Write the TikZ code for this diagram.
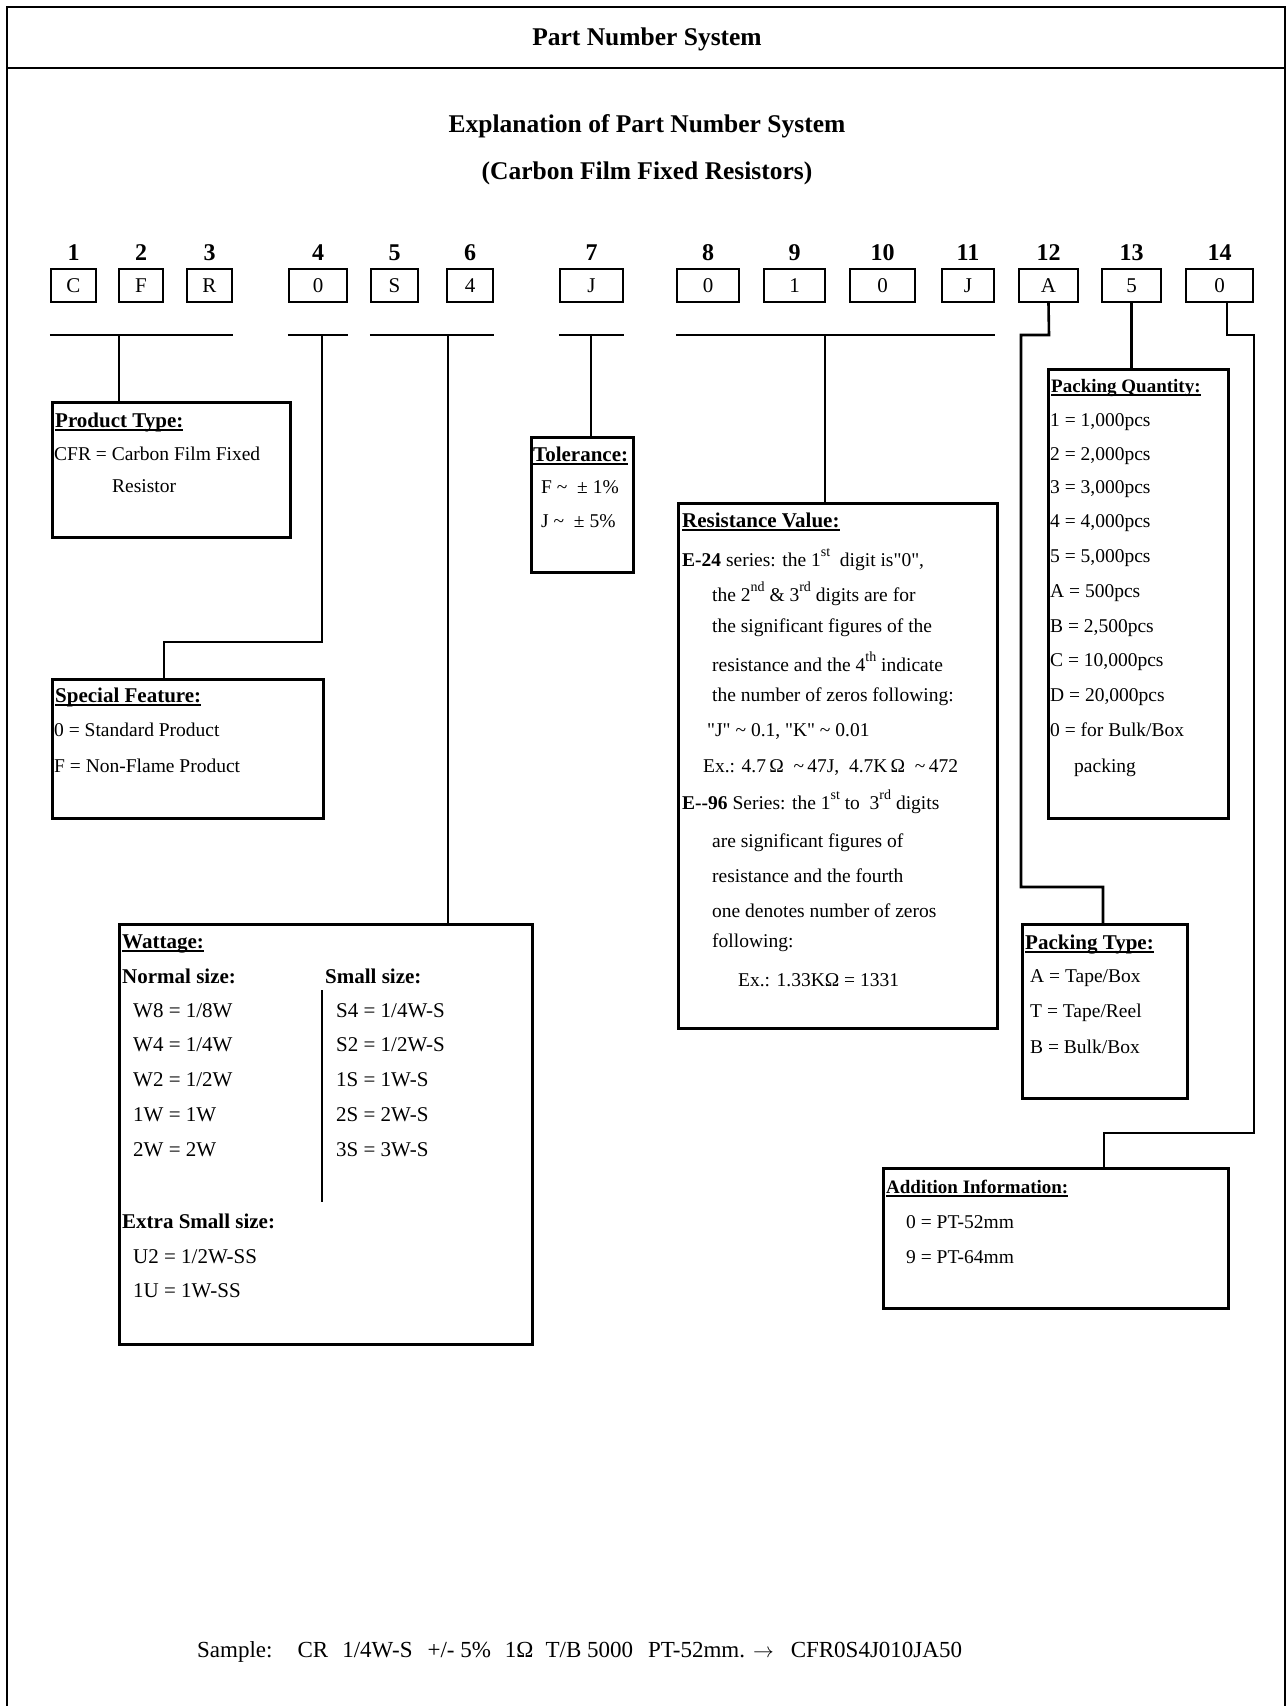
\documentclass[tikz,border=0pt]{standalone}
\usepackage{fontspec}
\setmainfont{Liberation Serif}[Ligatures=TeXOff]
\newcommand\bodyf{\fontsize{19.5}{23}\selectfont}
\newcommand\wattf{\fontsize{21}{25}\selectfont}
\newcommand\headf{\fontsize{21}{25}\selectfont\bfseries}
\newcommand\boxf{\fontsize{21}{25}\selectfont}
\newcommand\sups[1]{\raisebox{9.5pt}{\fontsize{14}{14}\selectfont #1}}
\newcommand\ulbf[1]{\setbox0\hbox{\bfseries #1}\rlap{\rule[-4pt]{\wd0}{2pt}}\box0}
\tikzset{
  frame/.style={line width=2.6pt},
  conn/.style={line width=2.6pt},
  digitbox/.style={draw, line width=2.4pt, minimum height=33pt, inner sep=0pt, font=\boxf},
  digitnum/.style={anchor=base, inner sep=0pt, font=\fontsize{24}{28}\selectfont\bfseries},
  infobox/.style={draw, line width=2.6pt, inner sep=0pt, anchor=north west},
  lbl/.style={anchor=base west, inner sep=0pt, font=\bodyf},
  wlbl/.style={anchor=base west, inner sep=0pt, font=\wattf},
  ttl/.style={anchor=base west, inner sep=0pt, font=\fontsize{21}{25}\selectfont},
  title/.style={anchor=base, inner sep=0pt, font=\fontsize{25.5}{30}\selectfont\bfseries},
}
\begin{document}
\begin{tikzpicture}[x=1pt,y=-1pt]
\useasboundingbox (0,0) rectangle (1286,1706);
% outer frame
\coordinate (fbl) at (7,1715);
\coordinate (ftl) at (7,7);
\coordinate (ftr) at (1285,7);
\coordinate (fbr) at (1285,1715);
\coordinate (hl) at (7,68);
\coordinate (hr) at (1285,68);
\draw[frame] (fbl) -- (ftl) -- (ftr) -- (fbr);
\draw[frame] (hl) -- (hr);
\node[title] (hdr) at (647,45) {Part Number System};
\node[title] (expl) at (647,132) {Explanation of Part Number System};
\node[title] (cfr) at (647,179) {(Carbon Film Fixed Resistors)};

% digit boxes
\foreach \n/\cx/\w/\ch in {1/73.5/45/C, 2/141/44/F, 3/209.5/45/R, 4/318/58/0, 5/394.5/47/S, 6/470/46/4, 7/591.5/63/J, 8/708/62/0, 9/794.5/61/1, 10/882.5/65/0, 11/968/52/J, 12/1048.5/59/A, 13/1131.5/59/5, 14/1219.5/67/0}{
  \node[digitbox, minimum width=\w pt] (d\n) at (\cx,285.5) {\ch};
  \node[digitnum] (n\n) at (\cx,260) {\n};
}

% info boxes
\node[infobox, minimum width=238pt, minimum height=135pt] (ptype) at (51,401) {};
\node[infobox, minimum width=271pt, minimum height=139pt] (spec) at (51,678) {};
\node[infobox, minimum width=413pt, minimum height=420pt] (watt) at (118,923) {};
\node[infobox, minimum width=102pt, minimum height=135pt] (tol) at (530,436) {};
\node[infobox, minimum width=319pt, minimum height=525pt] (res) at (677,502) {};
\node[infobox, minimum width=180pt, minimum height=449pt] (pq) at (1047,368) {};
\node[infobox, minimum width=165pt, minimum height=174pt] (pt) at (1021,923) {};
\node[infobox, minimum width=345pt, minimum height=140pt] (add) at (882,1167) {};

% bars and connectors
\coordinate (bar) at (0,335);
\draw[conn] (d1.west |- bar) -- (d3.east |- bar);
\draw[conn] (d4.west |- bar) -- (d4.east |- bar);
\draw[conn] (d5.west |- bar) -- (d6.east |- bar);
\draw[conn] (d7.west |- bar) -- (d7.east |- bar);
\draw[conn] (d8.west |- bar) -- (d11.east |- bar);
\coordinate (s1) at (119,335);
\coordinate (s2) at (322,335);
\coordinate (s2b) at (322,642);
\coordinate (s2c) at (164,642);
\coordinate (s3) at (448,335);
\coordinate (s4) at (591,335);
\coordinate (s5) at (825,335);
\draw[conn] (s1) -- (s1 |- ptype.north);
\draw[conn] (s2) -- (s2b) -- (s2c) -- (s2c |- spec.north);
\draw[conn] (s3) -- (s3 |- watt.north);
\draw[conn] (s4) -- (s4 |- tol.north);
\draw[conn] (s5) -- (s5 |- res.north);
\coordinate (a1) at (1049,335);
\coordinate (a2) at (1021,335);
\coordinate (a3) at (1021,887);
\coordinate (a4) at (1103,887);
\draw[conn] (d12.south) -- (a1) -- (a2) -- (a3) -- (a4) -- (a4 |- pt.north);
\draw[conn] (d13.south) -- (d13.south |- pq.north);
\coordinate (z0) at (1227,302);
\coordinate (z1) at (1227,335);
\coordinate (z2) at (1254,335);
\coordinate (z3) at (1254,1133);
\coordinate (z4) at (1104,1133);
\draw[conn] (z0) -- (z1) -- (z2) -- (z3) -- (z4) -- (z4 |- add.north);

% Product Type
\node[ttl] (pt1) at (55,427) {\ulbf{Product Type:}};
\node[lbl] (pt2) at (54,460) {CFR = Carbon Film Fixed};
\node[lbl] (pt3) at (112,492) {Resistor};

% Tolerance
\node[ttl] (to1) at (533,461) {\ulbf{Tolerance:}};
\node[lbl] (to2) at (541,493) {F \textasciitilde\ \ ± 1\%};
\node[lbl] (to3) at (541,527) {J \textasciitilde\ \ ± 5\%};

% Resistance Value
\node[ttl] (rv0) at (682,527) {\ulbf{Resistance Value:}};
\node[lbl] (rv1) at (682,566) {\textbf{E-24} series: the 1\sups{st}\ \ digit is"0",};
\node[lbl] (rv2) at (712,601) {the 2\sups{nd}\ \& 3\sups{rd}\ digits are for};
\node[lbl] (rv3) at (712,632) {the significant figures of the};
\node[lbl] (rv4) at (712,671) {resistance and the 4\sups{th}\ indicate};
\node[lbl] (rv5) at (712,701) {the number of zeros following:};
\node[lbl] (rv6) at (707,736) {"J" \textasciitilde{} 0.1, "K" \textasciitilde{} 0.01};
\node[lbl] (rv7) at (703,772) {Ex.: 4.7\,Ω\ \ \textasciitilde\,47J,\ \ 4.7K\,Ω\ \ \textasciitilde\,472};
\node[lbl] (rv8) at (682,809) {\textbf{E--96} Series: the 1\sups{st}\ to\ \ 3\sups{rd}\ digits};
\node[lbl] (rv9) at (712,847) {are significant figures of};
\node[lbl] (rv10) at (712,882) {resistance and the fourth};
\node[lbl] (rv11) at (712,917) {one denotes number of zeros};
\node[lbl] (rv12) at (712,947) {following:};
\node[lbl] (rv13) at (738,986) {Ex.: 1.33KΩ = 1331};

% Special Feature
\node[ttl] (sf1) at (55,702) {\ulbf{Special Feature:}};
\node[lbl] (sf2) at (54,736) {0 = Standard Product};
\node[lbl] (sf3) at (54,772) {F = Non-Flame Product};

% Packing Quantity
\node[ttl, font=\fontsize{19}{23}\selectfont] (pq0) at (1051,392) {\ulbf{Packing Quantity:}};
\node[lbl] (pq1) at (1050,426) {1 = 1,000pcs};
\node[lbl] (pq2) at (1050,460) {2 = 2,000pcs};
\node[lbl] (pq3) at (1050,493) {3 = 3,000pcs};
\node[lbl] (pq4) at (1050,527) {4 = 4,000pcs};
\node[lbl] (pq5) at (1050,562) {5 = 5,000pcs};
\node[lbl] (pq6) at (1050,597) {A = 500pcs};
\node[lbl] (pq7) at (1050,632) {B = 2,500pcs};
\node[lbl] (pq8) at (1050,666) {C = 10,000pcs};
\node[lbl] (pq9) at (1050,701) {D = 20,000pcs};
\node[lbl] (pq10) at (1050,736) {0 = for Bulk/Box};
\node[lbl] (pq11) at (1074,772) {packing};

% Wattage
\node[ttl] (w0) at (122,948) {\ulbf{Wattage:}};
\node[ttl, font=\headf] (w1) at (122,983) {Normal size:};
\node[ttl, font=\headf] (w2) at (325,983) {Small size:};
\node[wlbl] (w3) at (133,1017) {W8 = 1/8W};
\node[wlbl] (w4) at (133,1051) {W4 = 1/4W};
\node[wlbl] (w5) at (133,1086) {W2 = 1/2W};
\node[wlbl] (w6) at (133,1121) {1W = 1W};
\node[wlbl] (w7) at (133,1156) {2W = 2W};
\node[wlbl] (w8) at (336,1017) {S4 = 1/4W-S};
\node[wlbl] (w9) at (336,1051) {S2 = 1/2W-S};
\node[wlbl] (w10) at (336,1086) {1S = 1W-S};
\node[wlbl] (w11) at (336,1121) {2S = 2W-S};
\node[wlbl] (w12) at (336,1156) {3S = 3W-S};
\node[ttl, font=\headf] (w13) at (122,1228) {Extra Small size:};
\node[wlbl] (w14) at (133,1263) {U2 = 1/2W-SS};
\node[wlbl] (w15) at (133,1297) {1U = 1W-SS};
\coordinate (wd1) at (322,990);
\coordinate (wd2) at (322,1202);
\draw[conn] (wd1) -- (wd2);

% Packing Type
\node[ttl] (pk0) at (1025,949) {\ulbf{Packing Type:}};
\node[lbl] (pk1) at (1030,982) {A = Tape/Box};
\node[lbl] (pk2) at (1030,1017) {T = Tape/Reel};
\node[lbl] (pk3) at (1030,1053) {B = Bulk/Box};

% Addition Information
\node[ttl, font=\fontsize{19}{23}\selectfont] (ad0) at (886,1193) {\ulbf{Addition Information:}};
\node[lbl] (ad1) at (906,1228) {0 = PT-52mm};
\node[lbl] (ad2) at (906,1263) {9 = PT-64mm};

% Sample
\node[anchor=base west, inner sep=0pt, font=\fontsize{23}{27}\selectfont] (smp) at (197,1657) {Sample:\hspace{25pt}CR\hspace{14pt}1/4W-S\hspace{15pt}+/- 5\%\hspace{14pt}1Ω\hspace{12pt}T/B 5000\hspace{15pt}PT-52mm.\hspace{8pt}{\fontsize{20}{24}\selectfont$\rightarrow$}\hspace{17pt}CFR0S4J010JA50};
\end{tikzpicture}
\end{document}
